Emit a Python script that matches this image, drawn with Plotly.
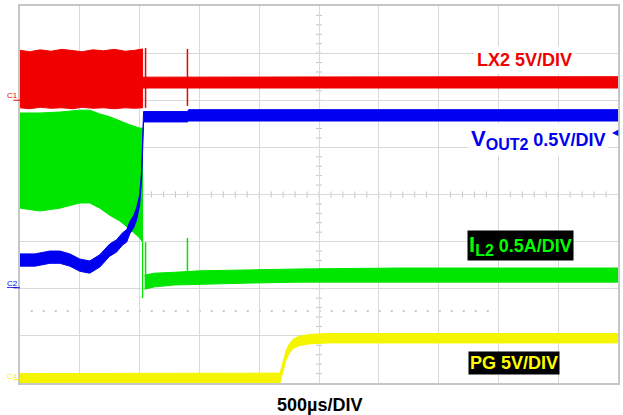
import plotly.graph_objects as go

# ---------------- scope time base / screen ----------------
T_DIV = 500          # µs per horizontal division
N_HDIV = 10
N_VDIV = 8
T_END = T_DIV * N_HDIV

# All vertical values are in screen divisions (0 = screen centre).

# ---- CH1: LX2, 5 V/div ----
lx2_sw_t = [0, 80, 170, 260, 350, 440, 520, 610, 700, 790, 880, 960, 1025]
lx2_sw_hi = [3.06, 3.03, 3.07, 3.04, 3.08, 3.05, 3.03, 3.07, 3.05, 3.08, 3.04, 3.06, 3.09]
lx2_sw_lo = [1.84, 1.82, 1.85, 1.83, 1.84, 1.82, 1.85, 1.83, 1.84, 1.82, 1.84, 1.83, 1.84]
lx2_t = [1025, 5000]
lx2_hi = [2.49, 2.50]
lx2_lo = [2.26, 2.26]
lx2_spike_t = [1050, 1400]
lx2_spike_hi = [3.11, 3.09]
lx2_spike_lo = [1.84, 1.88]

# ---- CH2: VOUT2, 0.5 V/div (trace centre and half thickness) ----
vout_t = [0, 125, 250, 333, 417, 500, 583, 667, 750, 808, 858, 892, 917, 950,
          975, 1000, 1017, 1025, 1033, 1400, 1410, 5000]
vout_c = [-1.39, -1.39, -1.33, -1.33, -1.39, -1.50, -1.54, -1.41, -1.18, -1.09,
          -0.94, -0.88, -0.71, -0.58, -0.41, -0.12, 0.41, 1.05, 1.65, 1.65, 1.68, 1.68]
vout_h = [0.13, 0.13, 0.13, 0.13, 0.13, 0.13, 0.13, 0.13, 0.13, 0.13, 0.13,
          0.13, 0.13, 0.13, 0.13, 0.11, 0.10, 0.08, 0.11, 0.11, 0.12, 0.12]

# ---- CH3: IL2, 0.5 A/div ----
il_sw_t = [0, 167, 333, 500, 583, 667, 750, 833, 917, 1000, 1025]
il_sw_hi = [1.73, 1.73, 1.75, 1.79, 1.79, 1.71, 1.65, 1.56, 1.48, 1.41, 1.41]
il_sw_lo = [-0.29, -0.35, -0.29, -0.18, -0.18, -0.29, -0.44, -0.56, -0.73, -0.92, -1.01]
il_drop_t = [1025, 1025]
il_drop_v = [-1.01, -2.20]
il_t = [1042, 1125, 1292, 1500, 1917, 2333, 3167, 4000, 5000]
il_hi = [-1.71, -1.67, -1.65, -1.62, -1.60, -1.58, -1.56, -1.56, -1.56]
il_lo = [-2.01, -1.96, -1.92, -1.90, -1.88, -1.86, -1.86, -1.86, -1.86]
il_spike_t = [1050, 1400]
il_spike_hi = [-1.01, -0.92]
il_spike_lo = [-1.75, -1.65]

# ---- CH4: PG, 5 V/div ----
pg_t = [0, 2175, 2192, 2208, 2225, 2250, 2283, 2333, 2417, 2583, 5000]
pg_c = [-3.90, -3.89, -3.72, -3.55, -3.41, -3.28, -3.17, -3.11, -3.07, -3.05, -3.05]
pg_h = [0.10, 0.10, 0.10, 0.10, 0.10, 0.10, 0.10, 0.10, 0.10, 0.10, 0.10]

RED = "#f00000"
BLUE = "#0000f0"
GREEN = "#00e600"
YELLOW = "#f5f500"


def band(t, hi, lo, color):
    return go.Scatter(
        x=list(t) + list(t)[::-1],
        y=list(hi) + list(lo)[::-1],
        fill="toself", fillcolor=color, mode="lines",
        line=dict(color=color, width=1),
        hoverinfo="skip", showlegend=False)


def spikes(t, hi, lo, color, width=1.5):
    xs, ys = [], []
    for ti, h, l in zip(t, hi, lo):
        xs += [ti, ti, None]
        ys += [l, h, None]
    return go.Scatter(x=xs, y=ys, mode="lines",
                      line=dict(color=color, width=width),
                      hoverinfo="skip", showlegend=False)


fig = go.Figure()

# LX2
fig.add_trace(band(lx2_sw_t, lx2_sw_hi, lx2_sw_lo, RED))
fig.add_trace(band(lx2_t, lx2_hi, lx2_lo, RED))
fig.add_trace(spikes(lx2_spike_t, lx2_spike_hi, lx2_spike_lo, RED))

# IL2
fig.add_trace(band(il_sw_t, il_sw_hi, il_sw_lo, GREEN))
fig.add_trace(spikes(il_drop_t[:1], il_drop_v[:1], il_drop_v[1:], GREEN, 1.2))
fig.add_trace(band(il_t, il_hi, il_lo, GREEN))
fig.add_trace(spikes(il_spike_t, il_spike_hi, il_spike_lo, GREEN))

# VOUT2
fig.add_trace(band(vout_t,
                   [c + h for c, h in zip(vout_c, vout_h)],
                   [c - h for c, h in zip(vout_c, vout_h)], BLUE))

# PG
fig.add_trace(band(pg_t,
                   [c + h for c, h in zip(pg_c, pg_h)],
                   [c - h for c, h in zip(pg_c, pg_h)], YELLOW))

# ---------------- graticule ----------------
GRID = "#d9d9d9"
shapes = []
# minor ticks on the centre cross-hair (5 per division)
for k in range(1, N_HDIV * 5):
    t = k * T_DIV / 5
    shapes.append(dict(type="line", xref="x", yref="y", x0=t, x1=t,
                       y0=-0.065, y1=0.065, line=dict(color="#c4c4c4", width=1),
                       layer="below"))
for k in range(-N_VDIV // 2 * 5 + 1, N_VDIV // 2 * 5):
    v = k / 5
    shapes.append(dict(type="line", xref="x", yref="y",
                       x0=T_END / 2 - 25, x1=T_END / 2 + 25,
                       y0=v, y1=v, line=dict(color="#c4c4c4", width=1),
                       layer="below"))
# dotted reference level
shapes.append(dict(type="line", xref="x", yref="y", x0=90, x1=4000,
                   y0=-2.47, y1=-2.47,
                   line=dict(color="#b8b8b8", width=1.5, dash="2px,10px"),
                   layer="below"))
# short reference markers at the left edge
for v, col in [(2.0, RED), (-1.98, BLUE), (-3.93, YELLOW)]:
    shapes.append(dict(type="line", xref="paper", yref="y", x0=-0.011, x1=0,
                       y0=v, y1=v, line=dict(color=col, width=1)))
fig.update_layout(shapes=shapes)

FONT = "Liberation Sans, Arial, sans-serif"
ann = []
ann.append(dict(x=4217, y=2.85, xref="x", yref="y", showarrow=False,
                text="<b>LX2 5V/DIV</b>", bgcolor="white", borderpad=3,
                font=dict(family=FONT, size=18, color=RED)))
ann.append(dict(x=4330, y=1.16, xref="x", yref="y", showarrow=False,
                text="<b><span style='font-size:22px'>V</span><sub><span style='font-size:16px'>OUT2</span></sub> 0.5V/DIV</b>",
                bgcolor="white", borderpad=2,
                font=dict(family=FONT, size=18, color=BLUE)))
ann.append(dict(x=4183, y=-1.09, xref="x", yref="y", showarrow=False,
                text="<b><span style='font-size:22px'>I</span><sub><span style='font-size:16px'>L2</span></sub> 0.5A/DIV</b>",
                bgcolor="black", borderpad=1,
                font=dict(family=FONT, size=18, color="#00ff00")))
ann.append(dict(x=4133, y=-3.58, xref="x", yref="y", showarrow=False,
                text="<b>PG 5V/DIV</b>", bgcolor="black", borderpad=1,
                font=dict(family=FONT, size=18, color="#ffff00")))
ann.append(dict(x=0.5, y=-0.058, xref="paper", yref="paper", showarrow=False,
                yanchor="middle", text="<b>500µs/DIV</b>",
                font=dict(family=FONT, size=18, color="black")))
# channel tags
for v, tag, col in [(2.1, "C1", RED), (-1.88, "<u>C2</u>", BLUE), (-3.86, "C4", YELLOW)]:
    ann.append(dict(x=-0.002, y=v, xref="paper", yref="y", xanchor="right",
                    showarrow=False, text=tag, borderpad=0,
                    font=dict(family=FONT, size=8, color=col)))
# VOUT2 offset marker at the right edge
ann.append(dict(x=1.004, y=1.31, xref="paper", yref="y", xanchor="right",
                showarrow=False, text="◀", borderpad=0,
                font=dict(family=FONT, size=8, color=BLUE)))
fig.update_layout(annotations=ann)

fig.update_layout(
    width=623, height=415,
    margin=dict(l=20, r=3, t=6, b=32),
    paper_bgcolor="white", plot_bgcolor="white",
    xaxis=dict(range=[0, T_END], dtick=T_DIV, tick0=0, showgrid=True,
               gridcolor=GRID, gridwidth=1, zeroline=False,
               showticklabels=False, ticks="", showline=True, mirror=True,
               linecolor="#c6c6c6", linewidth=2, fixedrange=True),
    yaxis=dict(range=[-N_VDIV / 2, N_VDIV / 2], dtick=1, tick0=0, showgrid=True,
               gridcolor=GRID, gridwidth=1, zeroline=False,
               showticklabels=False, ticks="", showline=True, mirror=True,
               linecolor="#c6c6c6", linewidth=2, fixedrange=True),
    showlegend=False,
)

fig.write_html("out.html")
